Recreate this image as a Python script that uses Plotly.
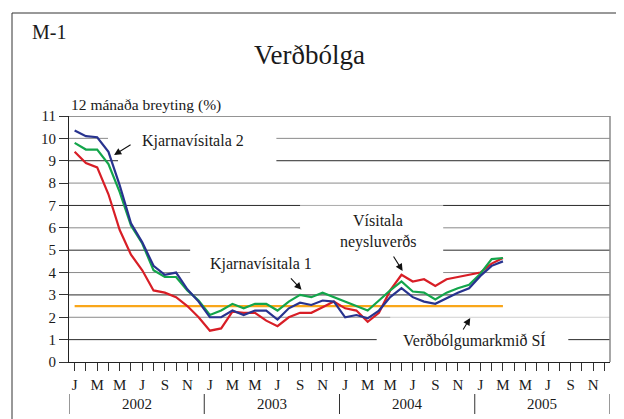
import plotly.graph_objects as go

# ---------------- data ----------------
years = ["2002", "2003", "2004", "2005"]
month_labels = ["J", "", "M", "", "M", "", "J", "", "S", "", "N", ""]

# Jan 2002 .. Mar 2005 (39 months), 12-month change in %
cpi = [9.4, 8.9, 8.7, 7.5, 5.9, 4.8, 4.1, 3.2, 3.1, 2.9, 2.5, 2.0,
       1.4, 1.5, 2.25, 2.2, 2.2, 1.85, 1.6, 2.0, 2.2, 2.2, 2.45, 2.7,
       2.4, 2.3, 1.8, 2.2, 3.2, 3.9, 3.6, 3.7, 3.4, 3.7, 3.8, 3.9,
       4.0, 4.4, 4.65]
core1 = [9.8, 9.5, 9.5, 8.85, 7.6, 6.1, 5.3, 4.1, 3.8, 3.8, 3.2, 2.75,
         2.1, 2.3, 2.6, 2.4, 2.6, 2.6, 2.3, 2.7, 3.0, 2.9, 3.1, 2.9,
         2.7, 2.5, 2.3, 2.75, 3.2, 3.6, 3.15, 3.1, 2.8, 3.1, 3.3, 3.45,
         3.95, 4.6, 4.65]
core2 = [10.35, 10.1, 10.05, 9.4, 7.9, 6.2, 5.35, 4.3, 3.9, 4.0, 3.25, 2.7,
         2.0, 2.0, 2.3, 2.1, 2.3, 2.3, 1.9, 2.4, 2.65, 2.55, 2.75, 2.7,
         2.0, 2.1, 1.95, 2.3, 2.9, 3.3, 2.9, 2.7, 2.6, 2.85, 3.1, 3.3,
         3.85, 4.3, 4.5]
inflation_target = 2.5

n_months = len(years) * 12
x_data = list(range(len(cpi)))
all_x = list(range(n_months))
tick_text = month_labels * len(years)

# ---------------- geometry helpers (layout only) ----------------
W, H = 624, 419
L, R, T, B = 61, 22, 108, 65
pw, ph = W - L - R, H - T - B
def px(xp):
    return (xp - L) / pw
def py(yp):
    return (H - B - yp) / ph

FONT = "Liberation Serif, Times New Roman, DejaVu Serif, serif"
TXT = "#1a1a1a"
BLUE = "#28338f"
GREEN = "#13a54b"
RED = "#d81e26"
ORANGE = "#f9a61a"

fig = go.Figure()
fig.add_trace(go.Scatter(x=x_data, y=[inflation_target] * len(x_data), mode="lines",
                         line=dict(color=ORANGE, width=2.3), hoverinfo="skip"))
fig.add_trace(go.Scatter(x=x_data, y=cpi, mode="lines", line=dict(color=RED, width=2.2),
                         name="Vísitala neysluverðs"))
fig.add_trace(go.Scatter(x=x_data, y=core1, mode="lines", line=dict(color=GREEN, width=2.2),
                         name="Kjarnavísitala 1"))
fig.add_trace(go.Scatter(x=x_data, y=core2, mode="lines", line=dict(color=BLUE, width=2.2),
                         name="Kjarnavísitala 2"))

shapes = []
# horizontal grid lines, alternating dark / grey
for k in range(1, 12):
    shapes.append(dict(type="line", xref="x domain", yref="y", x0=0, x1=1, y0=k, y1=k,
                       line=dict(color="#2a2a2a" if k % 2 else "#8a8a8a", width=1),
                       layer="below"))
# white masks behind the labels (between grid and traces)
def mask(x0, x1, y0, y1, op=1.0):
    shapes.append(dict(type="rect", xref="x", yref="y", x0=x0, x1=x1, y0=y0, y1=y1,
                       fillcolor="white", opacity=op, line=dict(width=0), layer="between"))
mask(2.96, 17.9, 9.8, 10.2)
mask(3.85, 17.9, 8.8, 9.2)
mask(10.25, 32.7, 3.8, 5.2)
mask(20.0, 32.7, 5.8, 6.2)
mask(20.0, 32.7, 6.8, 7.2, 0.6)
mask(28.0, 47.6, 1.8, 2.2, 0.6)
mask(26.8, 43.8, 0.8, 1.2)
# right border of plot
shapes.append(dict(type="line", xref="x domain", yref="y domain", x0=1, x1=1, y0=0, y1=1,
                   line=dict(color="#8a8a8a", width=1.5)))
# year separators
for k in range(len(years) + 1):
    shapes.append(dict(type="line", xref="x", yref="paper", x0=k * 12 - 0.5, x1=k * 12 - 0.5,
                       y0=py(386), y1=py(406), line=dict(color="#333", width=1)))
# outer frame
shapes.append(dict(type="rect", xref="paper", yref="paper", x0=px(4), x1=px(620),
                   y0=py(414), y1=py(5), line=dict(color="#333", width=1)))

ann = []
def text(xp, yp, s, size=15, xanchor="left"):
    ann.append(dict(xref="paper", yref="paper", x=px(xp), y=py(yp), text=s, showarrow=False,
                    xanchor=xanchor, yanchor="middle", font=dict(family=FONT, size=size, color=TXT)))
text(22, 24, "M-1", 20)
text(301, 47, "Verðbólga", 27, "center")
text(61, 97, "12 mánaða breyting (%)", 15.5)
for i, yr in enumerate(years):
    ann.append(dict(xref="x", yref="paper", x=i * 12 + 5.5, y=py(396), text=yr, showarrow=False,
                    xanchor="center", yanchor="middle", font=dict(family=FONT, size=15, color=TXT)))

def label(x, y, s, xanchor="left"):
    ann.append(dict(xref="x", yref="y", x=x, y=y, text=s, showarrow=False, xanchor=xanchor,
                    yanchor="middle", font=dict(family=FONT, size=16, color=TXT)))
label(5.82, 9.88, "Kjarnavísitala 2")
label(11.85, 4.38, "Kjarnavísitala 1")
label(26.95, 6.31, "Vísitala", "center")
label(26.95, 5.37, "neysluverðs", "center")
label(29.0, 0.94, "Verðbólgumarkmið SÍ")

def arrow(x, y, ax, ay):
    ann.append(dict(xref="x", yref="y", x=x, y=y, ax=ax, ay=ay, text="", showarrow=True,
                    arrowhead=2, arrowsize=1.3, arrowwidth=1.1, arrowcolor="#111"))
arrow(3.5, 9.26, 18, -11)
arrow(20.13, 3.23, -12, -13)
arrow(29.1, 4.07, -10, -16)
arrow(35.1, 1.97, -8, 13)

fig.update_layout(
    width=W, height=H, margin=dict(l=L, r=R, t=T, b=B),
    paper_bgcolor="white", plot_bgcolor="white", showlegend=False,
    shapes=shapes, annotations=ann,
    font=dict(family=FONT, size=15, color=TXT),
)
fig.update_xaxes(range=[-0.5, n_months - 0.5], tickmode="array", tickvals=all_x, ticktext=tick_text,
                 ticks="outside", ticklen=8, tickcolor="#333", tickwidth=1, showgrid=False,
                 showline=True, linecolor="#222", linewidth=1, zeroline=False,
                 ticklabelstandoff=1, tickfont=dict(family=FONT, size=15, color=TXT))
fig.update_yaxes(range=[0, 11], dtick=1, ticks="outside", ticklen=9, tickcolor="#333",
                 showgrid=False, showline=True, linecolor="#222", linewidth=1, zeroline=False,
                 tickfont=dict(family=FONT, size=15, color=TXT))
fig.write_html("out.html")
